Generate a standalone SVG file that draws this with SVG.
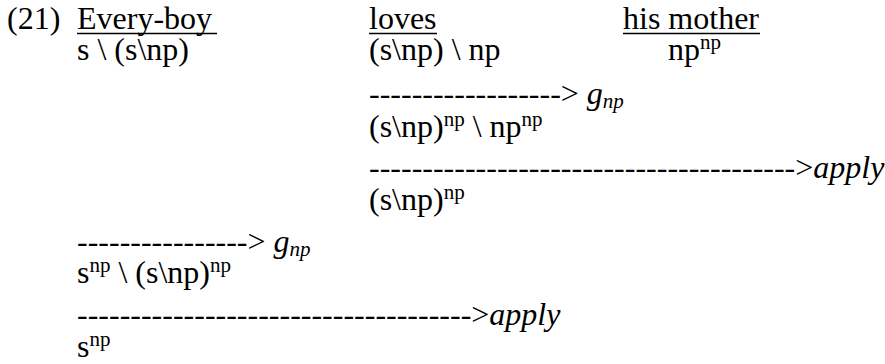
<svg xmlns="http://www.w3.org/2000/svg" width="885" height="364" viewBox="0 0 885 364">
<style>
text{font-family:'Liberation Serif','Times New Roman','DejaVu Serif','Noto Serif',serif;font-size:32px;fill:#000}
.sup{font-size:21px}
.it{font-style:italic}
.sub{font-size:21px;font-style:italic}
.ul{stroke:#000;stroke-width:1.6}
</style>
<rect width="885" height="364" fill="#fff"/>
<g id="label"><text x="7" y="29">(21)</text></g>
<g id="word-everyboy">
<text x="77" y="29">Every-boy</text>
<line class="ul" x1="77" y1="33.5" x2="217" y2="33.5"/>
<text x="77" y="60">s \ (s\np)</text>
</g>
<g id="word-loves">
<text x="369" y="29">loves</text>
<line class="ul" x1="369" y1="33.5" x2="437" y2="33.5"/>
<text x="369" y="60">(s\np) \ np</text>
</g>
<g id="word-hismother">
<text x="623" y="29">his mother</text>
<line class="ul" x1="623" y1="33.5" x2="760" y2="33.5"/>
<text x="668" y="60">np<tspan class="sup" dy="-11">np</tspan></text>
</g>
<g id="step1">
<text x="369" y="104">------------------&gt; <tspan class="it">g</tspan><tspan class="sub" dy="4">np</tspan></text>
<text x="369" y="137">(s\np)<tspan class="sup" dy="-11">np</tspan><tspan dy="11"> \ np</tspan><tspan class="sup" dy="-11">np</tspan></text>
</g>
<g id="step2">
<text x="369" y="178">----------------------------------------&gt;<tspan class="it">apply</tspan></text>
<text x="369" y="210">(s\np)<tspan class="sup" dy="-11">np</tspan></text>
</g>
<g id="step3">
<text x="77" y="252">----------------&gt; <tspan class="it">g</tspan><tspan class="sub" dy="4">np</tspan></text>
<text x="77" y="283">s<tspan class="sup" dy="-11">np</tspan><tspan dy="11"> \ (s\np)</tspan><tspan class="sup" dy="-11">np</tspan></text>
</g>
<g id="step4">
<text x="77" y="325">-------------------------------------&gt;<tspan class="it">apply</tspan></text>
<text x="77" y="357">s<tspan class="sup" dy="-11">np</tspan></text>
</g>
</svg>
